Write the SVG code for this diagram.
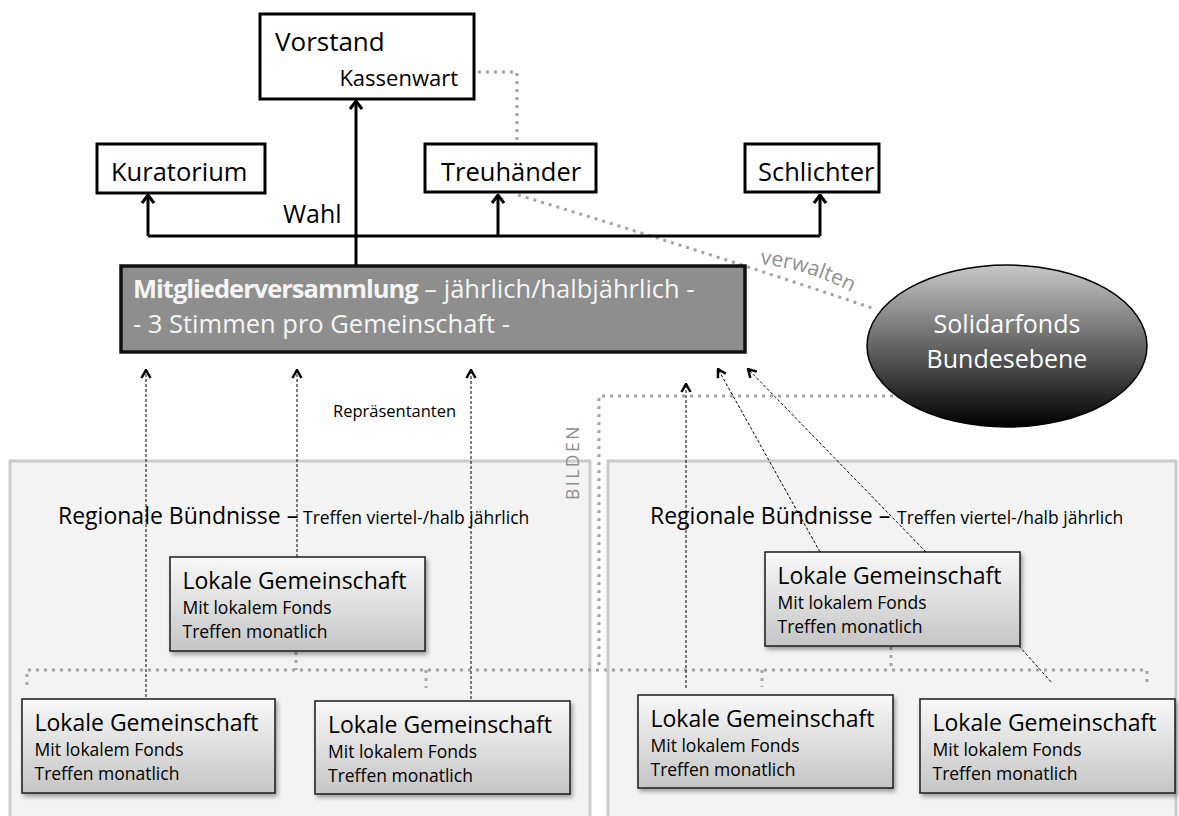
<svg xmlns="http://www.w3.org/2000/svg" width="1179" height="816" viewBox="0 0 1179 816">
<defs>
<style>
text{font-family:"Open Sans","Liberation Sans",sans-serif;}
.top rect{fill:#fff;stroke:#000;stroke-width:3;}
.top text{font-size:25.5px;fill:#000;}
.panel{fill:#f3f3f3;stroke:#cbcbcb;stroke-width:3;}
.lokal rect{fill:url(#gLok);stroke:#1a1a1a;stroke-width:1.5;filter:url(#sh);}
.lokal .t{font-size:23px;fill:#000;}
.lokal .s{font-size:17.5px;fill:#000;}
.reg{font-size:23px;fill:#000;}
.sm{font-size:17.5px;}
.solid{stroke:#000;stroke-width:3;fill:none;}
.dash{stroke:#000;stroke-width:1;stroke-dasharray:3 2;fill:none;}
.dot{stroke:#a3a3a3;stroke-width:3;stroke-dasharray:3 5;fill:none;}
.gray{fill:#8f8f8f;}
.mv{fill:#f5f5f5;font-size:25.5px;}
</style>
<linearGradient id="gLok" x1="0" y1="0" x2="0" y2="1"><stop offset="0" stop-color="#f8f8f8"/><stop offset="1" stop-color="#c5c5c5"/></linearGradient>
<linearGradient id="gSol" x1="0" y1="0" x2="0" y2="1"><stop offset="0" stop-color="#c8c8c8"/><stop offset="1" stop-color="#000"/></linearGradient>
<filter id="sh" x="-10%" y="-10%" width="130%" height="140%"><feDropShadow dx="2" dy="3" stdDeviation="2" flood-color="#000" flood-opacity="0.35"/></filter>
<marker id="big" viewBox="0 0 10 14" refX="9" refY="7" markerWidth="10" markerHeight="14" markerUnits="userSpaceOnUse" orient="auto"><path d="M1,1 L9,7 L1,13" fill="none" stroke="#000" stroke-width="3"/></marker>
<marker id="small" viewBox="0 0 10 12" refX="9" refY="6" markerWidth="10" markerHeight="12" markerUnits="userSpaceOnUse" orient="auto"><path d="M1,1.5 L9,6 L1,10.5" fill="none" stroke="#000" stroke-width="2.5"/></marker>
<path id="pv" d="M 760 264 Q 818 270 872 304" fill="none"/>
</defs>

<g id="panels">
<rect class="panel" x="10" y="461" width="580" height="370"/>
<rect class="panel" x="608" y="461" width="568" height="370"/>
<text class="reg" x="58" y="524">Regionale Bündnisse –<tspan class="sm" x="303">Treffen viertel-/halb jährlich</tspan></text>
<text class="reg" x="650" y="524">Regionale Bündnisse –<tspan class="sm" x="897">Treffen viertel-/halb jährlich</tspan></text>
</g>

<g id="connectors">
<path class="dot" d="M470 72 H517 V140"/>
<path class="dot" d="M518 195 Q 700 250 872 308"/>
<path class="dot" d="M893 396 H599 V670"/>
<path class="dot" d="M27 685 V670 H1147 V685"/>
<path class="dot" d="M296 652 V670"/>
<path class="dot" d="M426 670 V688"/>
<path class="dot" d="M762 670 V687"/>
<path class="dot" d="M891 647 V670"/>
<path class="solid" d="M148 236 H820"/>
<path class="solid" d="M148 236 V195" marker-end="url(#big)"/>
<path class="solid" d="M498 236 V195" marker-end="url(#big)"/>
<path class="solid" d="M820 236 V195" marker-end="url(#big)"/>
<path class="solid" d="M356 266 V101" marker-end="url(#big)"/>
<path class="dash" d="M146 697 V370" marker-end="url(#small)"/>
<path class="dash" d="M297 557 V370" marker-end="url(#small)"/>
<path class="dash" d="M471 699 V370" marker-end="url(#small)"/>
<path class="dash" d="M686 688 V384" marker-end="url(#small)"/>
<path class="dash" d="M820 552 L718 369" marker-end="url(#small)"/>
<path class="dash" d="M926 552 L748 369" marker-end="url(#small)"/>
<path class="dash" d="M1019 646 L1052 683"/>
<text x="333" y="417" style="font-size:16.5px">Repräsentanten</text>
<text x="283" y="223" style="font-size:25px">Wahl</text>
<text class="gray" style="font-size:21px"><textPath href="#pv">verwalten</textPath></text>
<text class="gray" transform="translate(579 500) rotate(-90)" style="font-size:17.5px;letter-spacing:2.5px">BILDEN</text>
</g>

<g id="vorstand" class="top">
<rect x="260" y="14" width="214" height="85"/>
<text x="275" y="51" style="font-size:26px">Vorstand</text>
<text x="458" y="86" text-anchor="end" style="font-size:22px">Kassenwart</text>
</g>
<g id="kuratorium" class="top">
<rect x="97" y="144" width="168" height="49"/>
<text x="111" y="181">Kuratorium</text>
</g>
<g id="treuhaender" class="top">
<rect x="425" y="144" width="171" height="48"/>
<text x="441" y="181">Treuhänder</text>
</g>
<g id="schlichter" class="top">
<rect x="745" y="144" width="134" height="48"/>
<text x="758" y="181">Schlichter</text>
</g>

<g id="mitgliederversammlung">
<rect x="121" y="266" width="624" height="86" fill="#8e8e8e" stroke="#111" stroke-width="3.5"/>
<text class="mv" x="133" y="298"><tspan font-weight="bold" letter-spacing="-1">Mitgliederversammlung</tspan> – jährlich/halbjährlich -</text>
<text class="mv" x="133" y="333">- 3 Stimmen pro Gemeinschaft -</text>
</g>

<g id="solidarfonds">
<ellipse cx="1007" cy="346" rx="140" ry="81" fill="url(#gSol)" stroke="#000" stroke-width="1.5"/>
<text x="1007" y="333" text-anchor="middle" fill="#fff" style="font-size:25px">Solidarfonds</text>
<text x="1007" y="368" text-anchor="middle" fill="#fff" style="font-size:25px">Bundesebene</text>
</g>

<g id="lokal-ul" class="lokal">
<rect x="170" y="557" width="255" height="94"/>
<text class="t" x="182.5" y="589">Lokale Gemeinschaft</text>
<text class="s" x="182.5" y="614">Mit lokalem Fonds</text>
<text class="s" x="182.5" y="638">Treffen monatlich</text>
</g>
<g id="lokal-ur" class="lokal">
<rect x="765" y="552" width="255" height="94"/>
<text class="t" x="777.5" y="584">Lokale Gemeinschaft</text>
<text class="s" x="777.5" y="609">Mit lokalem Fonds</text>
<text class="s" x="777.5" y="633">Treffen monatlich</text>
</g>
<g id="lokal-ll1" class="lokal">
<rect x="22" y="699" width="253" height="94"/>
<text class="t" x="34.5" y="731">Lokale Gemeinschaft</text>
<text class="s" x="34.5" y="756">Mit lokalem Fonds</text>
<text class="s" x="34.5" y="780">Treffen monatlich</text>
</g>
<g id="lokal-ll2" class="lokal">
<rect x="315" y="701" width="255" height="93"/>
<text class="t" x="328" y="733">Lokale Gemeinschaft</text>
<text class="s" x="328" y="758">Mit lokalem Fonds</text>
<text class="s" x="328" y="782">Treffen monatlich</text>
</g>
<g id="lokal-lr1" class="lokal">
<rect x="638" y="695" width="255" height="93"/>
<text class="t" x="650.5" y="727">Lokale Gemeinschaft</text>
<text class="s" x="650.5" y="752">Mit lokalem Fonds</text>
<text class="s" x="650.5" y="776">Treffen monatlich</text>
</g>
<g id="lokal-lr2" class="lokal">
<rect x="920" y="699" width="255" height="94"/>
<text class="t" x="932.5" y="731">Lokale Gemeinschaft</text>
<text class="s" x="932.5" y="756">Mit lokalem Fonds</text>
<text class="s" x="932.5" y="780">Treffen monatlich</text>
</g>
</svg>
